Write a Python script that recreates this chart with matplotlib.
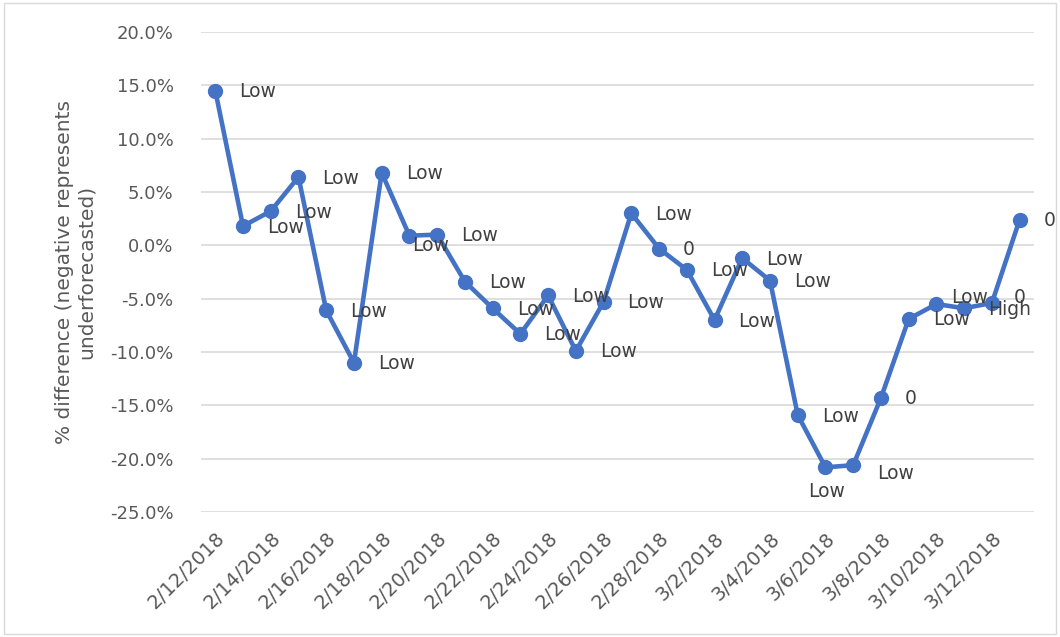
import matplotlib.pyplot as plt
from matplotlib.patches import Rectangle
from matplotlib.ticker import FuncFormatter, MultipleLocator

dates = ['2/12/2018', '2/13/2018', '2/14/2018', '2/15/2018', '2/16/2018', '2/17/2018',
         '2/18/2018', '2/19/2018', '2/20/2018', '2/21/2018', '2/22/2018', '2/23/2018',
         '2/24/2018', '2/25/2018', '2/26/2018', '2/27/2018', '2/28/2018', '3/1/2018',
         '3/2/2018', '3/3/2018', '3/4/2018', '3/5/2018', '3/6/2018', '3/7/2018',
         '3/8/2018', '3/9/2018', '3/10/2018', '3/11/2018', '3/12/2018', '3/13/2018']
pct_diff = [14.5, 1.8, 3.2, 6.4, -6.1, -11.0, 6.8, 0.9, 1.0, -3.4,
            -5.9, -8.3, -4.7, -9.9, -5.3, 3.0, -0.3, -2.3, -7.0, -1.2,
            -3.3, -15.9, -20.8, -20.6, -14.3, -6.9, -5.5, -5.9, -5.4, 2.4]
labels = ['Low', 'Low', 'Low', 'Low', 'Low', 'Low', 'Low', 'Low', 'Low', 'Low',
          'Low', 'Low', 'Low', 'Low', 'Low', 'Low', '0', 'Low', 'Low', 'Low',
          'Low', 'Low', 'Low', 'Low', '0', 'Low', 'Low', 'High', '0', '0']

blue = '#4472C4'
grey = '#595959'

fig = plt.figure(figsize=(10.6, 6.37), dpi=100)
ax = fig.add_axes([0.19, 0.196, 0.785, 0.754])

x = list(range(len(dates)))
ax.plot(x, pct_diff, color=blue, lw=3.3, marker='o', ms=10, zorder=3)

# data labels, mostly to the right of the point; a few nudged like the original
offsets = {7: (3, -10), 22: (-17, -24), 23: (24, -8), 26: (15, 7), 28: (22, 5)}
for i, (v, lab) in enumerate(zip(pct_diff, labels)):
    dx, dy = offsets.get(i, (24, -1))
    ax.annotate(lab, (i, v), xytext=(dx, dy), textcoords='offset pixels',
                ha='left', va='center', fontsize=13.5, color='#404040', zorder=4)

ax.set_xlim(-0.5, len(dates) - 0.5)
ax.set_ylim(-25, 20)
ax.yaxis.set_major_locator(MultipleLocator(5))
ax.yaxis.set_major_formatter(FuncFormatter(lambda v, p: f'{v:.1f}%'))
ax.grid(axis='y', color='#d9d9d9', lw=1.2)
ax.set_axisbelow(True)
for s in ax.spines.values():
    s.set_visible(False)

ax.set_xticks(x[::2])
ax.set_xticklabels(dates[::2], rotation=45, ha='right', rotation_mode='anchor')
ax.tick_params(axis='both', length=0, colors=grey)
ax.tick_params(axis='x', pad=12, labelsize=14)
ax.tick_params(axis='y', pad=20, labelsize=13)

ax.set_ylabel('% difference (negative represents\nunderforecasted)', fontsize=14.5,
              color=grey, labelpad=10)

fig.add_artist(Rectangle((0.004, 0.004), 0.992, 0.992, transform=fig.transFigure,
                         fill=False, edgecolor='#d9d9d9', lw=1))

plt.savefig('out.png')
